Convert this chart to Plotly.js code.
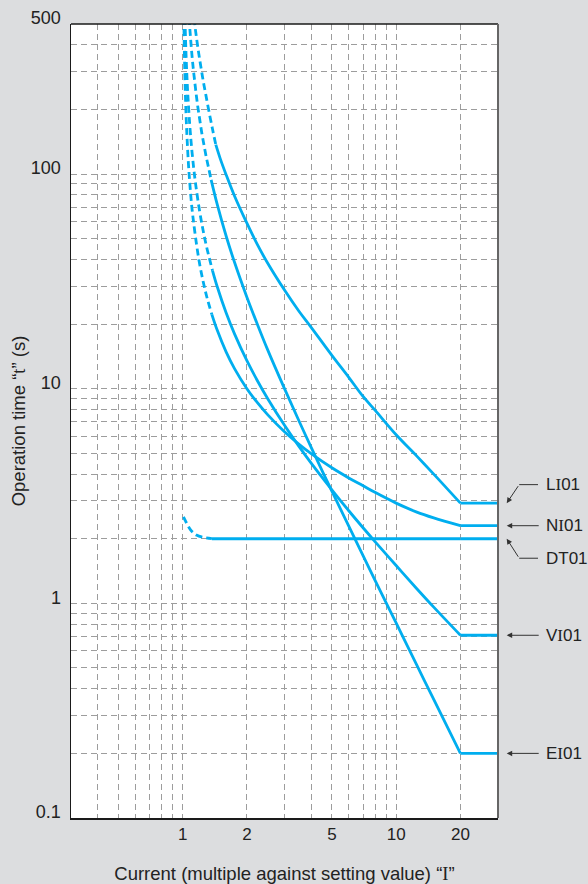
<!DOCTYPE html>
<html>
<head>
<meta charset="utf-8">
<script src="https://cdn.plot.ly/plotly-3.0.1.min.js"></script>
<style>html,body{margin:0;padding:0;background:#dcdddf;}#chart{width:588px;height:884px;}</style>
</head>
<body>
<div id="chart"></div>
<script>
// ---- data ----
const LI_dash_I = [1.128, 1.14, 1.16, 1.18, 1.2, 1.223, 1.25, 1.28, 1.323, 1.38, 1.43];
const LI_dash_t = [600, 500, 435, 385, 345, 307, 270, 238, 200, 162, 137];
const LI_I = [1.43, 1.5, 1.6, 1.75, 2, 2.25, 2.5, 3, 3.5, 4, 5, 6, 7, 8, 10, 12.5, 15, 20];
const LI_t = [137, 118, 99, 79, 59, 46.5, 38.5, 28.8, 23, 19.3, 14.3, 11.3, 9.2, 7.9, 6.1, 4.85, 4.0, 2.93];

const NI_dash_I = [1.0117, 1.014, 1.017, 1.02, 1.025, 1.03, 1.04, 1.05, 1.065, 1.08, 1.1, 1.12, 1.16, 1.2, 1.25, 1.3, 1.37];
const NI_dash_t = [600, 500, 413, 353, 283, 237, 178, 144, 111, 91, 73, 62, 47.5, 38.3, 31.3, 26.6, 22.2];
const NI_I = [1.37, 1.45, 1.6, 1.75, 2, 2.25, 2.5, 3, 3.5, 4, 5, 6, 7, 8, 10, 12.5, 15, 20];
const NI_t = [22.2, 18.8, 14.8, 12.4, 10.0, 8.56, 7.57, 6.3, 5.52, 4.98, 4.28, 3.84, 3.53, 3.28, 2.93, 2.66, 2.5, 2.3];

const VI_dash_I = [1.0225, 1.027, 1.033, 1.04, 1.05, 1.06, 1.08, 1.1, 1.125, 1.15, 1.2, 1.25, 1.3, 1.38];
const VI_dash_t = [600, 500, 409, 337, 270, 225, 169, 135, 108, 90, 67.5, 54, 45, 35.5];
const VI_I = [1.38, 1.45, 1.6, 1.75, 2, 2.25, 2.5, 3, 3.5, 4, 5, 6, 7, 8, 10, 12.5, 15, 20];
const VI_t = [35.5, 30, 22.5, 18, 13.5, 10.8, 9.0, 6.75, 5.4, 4.5, 3.38, 2.7, 2.25, 1.93, 1.5, 1.17, 0.96, 0.71];

const EI_dash_I = [1.0646, 1.077, 1.09, 1.105, 1.12, 1.14, 1.16, 1.18, 1.2, 1.23, 1.26, 1.29, 1.32, 1.36];
const EI_dash_t = [600, 500, 425, 361, 314, 268, 231, 203, 182, 155, 136, 120, 108, 94];
const EI_I = [1.36, 1.45, 1.6, 1.75, 2, 2.25, 2.5, 3, 3.5, 4, 5, 6, 7, 8, 10, 12.5, 15, 20];
const EI_t = [94, 72.6, 51.3, 38.8, 26.7, 19.7, 15.2, 10, 7.11, 5.33, 3.33, 2.29, 1.67, 1.27, 0.81, 0.515, 0.357, 0.2];

const DT_dash_I = [1.009, 1.025, 1.04, 1.07, 1.106, 1.16, 1.245, 1.37];
const DT_dash_t = [2.53, 2.45, 2.38, 2.26, 2.16, 2.08, 2.03, 2.0];
const DT_I = [1.37, 20];
const DT_t = [2.0, 2.0];

const I_end = 20, I_max = 30;
const xGrid = [0.4, 0.5, 0.6, 0.7, 0.8, 0.9, 1, 2, 3, 4, 5, 6, 7, 8, 9, 10, 20];
const xLabels = [1, 2, 5, 10, 20];
const yGrid = [0.1, 0.2, 0.3, 0.4, 0.5, 0.6, 0.7, 0.8, 0.9, 1, 2, 3, 4, 5, 6, 7, 8, 9,
               10, 20, 30, 40, 50, 60, 70, 80, 90, 100, 200, 300, 400, 500];
const yLabels = [0.1, 1, 10, 100, 500];
const curveNames = ['LI01', 'NI01', 'DT01', 'VI01', 'EI01'];

// ---- drawing ----
const C = '#00aeef', LW = 2.8;
const SERIF = "<span style=\"font-family:'Liberation Serif',serif\">I</span>";
const traces = [];
function addCurve(dI, dT, sI, sT, name) {
  traces.push({x: dI, y: dT, mode: 'lines', name: name + ' dashed',
    line: {color: C, width: LW, dash: '7px,4px', shape: 'spline', smoothing: 1}, hoverinfo: 'skip'});
  traces.push({x: sI, y: sT, mode: 'lines', name: name,
    line: {color: C, width: LW, shape: sI.length > 2 ? 'spline' : 'linear', smoothing: 1}});
  const last = sT[sT.length - 1];
  traces.push({x: [I_end, I_max], y: [last, last], mode: 'lines', name: name + ' flat',
    line: {color: C, width: LW}});
}
addCurve(LI_dash_I, LI_dash_t, LI_I, LI_t, 'LI01');
addCurve(NI_dash_I, NI_dash_t, NI_I, NI_t, 'NI01');
addCurve(DT_dash_I, DT_dash_t, DT_I, DT_t, 'DT01');
addCurve(VI_dash_I, VI_dash_t, VI_I, VI_t, 'VI01');
addCurve(EI_dash_I, EI_dash_t, EI_I, EI_t, 'EI01');

const M = {l: 71, r: 90, t: 24, b: 66};
const W = 588, H = 884;
const pw = W - M.l - M.r, ph = H - M.t - M.b;
const yr = [Math.log10(0.1), Math.log10(500)];
const xr = [Math.log10(0.3), Math.log10(30)];
function yPaper(t, dpx) { return (Math.log10(t) - yr[0]) / (yr[1] - yr[0]) + dpx / ph; }
function xPaper(px) { return (px - M.l) / pw; }

const ends = {
  'LI01': LI_t[LI_t.length - 1], 'NI01': NI_t[NI_t.length - 1], 'DT01': DT_t[DT_t.length - 1],
  'VI01': VI_t[VI_t.length - 1], 'EI01': EI_t[EI_t.length - 1]
};
const offs = {'LI01': 18.5, 'NI01': 0, 'DT01': -19.5, 'VI01': 0, 'EI01': 0};

const annotations = [];
const shapes = [];
curveNames.forEach(n => {
  const lbl = n.replace('I', SERIF);
  annotations.push({xref: 'paper', yref: 'paper', x: xPaper(544), y: yPaper(ends[n], offs[n]),
    xanchor: 'left', yanchor: 'middle', text: lbl, showarrow: false,
    font: {family: 'Liberation Sans, Arial, sans-serif', size: 17, color: '#222'}});
  const tipX = xPaper(506.7), tipY = yPaper(ends[n], 0);
  if (offs[n] === 0) {
    annotations.push({xref: 'paper', yref: 'paper', x: tipX, y: tipY, text: '', showarrow: true,
      ax: 33.5, ay: 0, arrowhead: 2, arrowsize: 1.1, arrowwidth: 1, arrowcolor: '#333', standoff: 0});
  } else {
    const dy = offs[n];
    annotations.push({xref: 'paper', yref: 'paper', x: tipX, y: tipY, text: '', showarrow: true,
      ax: 12.5, ay: -dy, arrowhead: 2, arrowsize: 1.1, arrowwidth: 1, arrowcolor: '#333', standoff: 0});
    shapes.push({type: 'line', xref: 'paper', yref: 'paper', x0: xPaper(519.2), x1: xPaper(538),
      y0: yPaper(ends[n], dy), y1: yPaper(ends[n], dy), line: {color: '#333', width: 1}});
  }
});
// top and right frame
shapes.push({type: 'line', xref: 'paper', yref: 'paper', x0: 0, x1: 1, y0: 1, y1: 1,
  line: {color: '#1a1a1a', width: 1.5}});
shapes.push({type: 'line', xref: 'paper', yref: 'paper', x0: 1, x1: 1, y0: 0, y1: 1,
  line: {color: '#666', width: 2}});

const layout = {
  width: W, height: H, margin: M, showlegend: false,
  paper_bgcolor: '#dcdddf', plot_bgcolor: '#ffffff',
  font: {family: 'Liberation Sans, Arial, sans-serif', color: '#222'},
  xaxis: {
    type: 'log', range: xr, tickmode: 'array', tickvals: xGrid,
    ticktext: xGrid.map(v => xLabels.includes(v) ? String(v) : ''),
    showgrid: true, gridcolor: '#9d9d9d', gridwidth: 1, griddash: '6px,4px',
    showline: true, linecolor: '#1a1a1a', linewidth: 1.5, ticks: '', zeroline: false,
    tickfont: {size: 17, color: '#222'}, ticklabelstandoff: 0, automargin: false,
    title: {text: 'Current (multiple against setting value) “' + SERIF + '”', font: {size: 18.5, color: '#222'}, standoff: 24}
  },
  yaxis: {
    type: 'log', range: yr, tickmode: 'array', tickvals: yGrid,
    ticktext: yGrid.map(v => yLabels.includes(v) ? String(v) : ''),
    showgrid: true, gridcolor: '#9d9d9d', gridwidth: 1, griddash: '6px,4px',
    showline: true, linecolor: '#1a1a1a', linewidth: 1.5, ticks: '', zeroline: false,
    tickfont: {size: 18, color: '#222'}, ticklabelshift: -6, ticklabelstandoff: 5, automargin: false,
    title: {text: "Operation time “<span style=\"font-family:'Liberation Serif',serif\">t</span>” (s)", font: {size: 18.5, color: '#222'}, standoff: 0}
  },
  annotations: annotations, shapes: shapes
};
Plotly.newPlot('chart', traces, layout, {staticPlot: true, displayModeBar: false});
</script>
</body>
</html>
